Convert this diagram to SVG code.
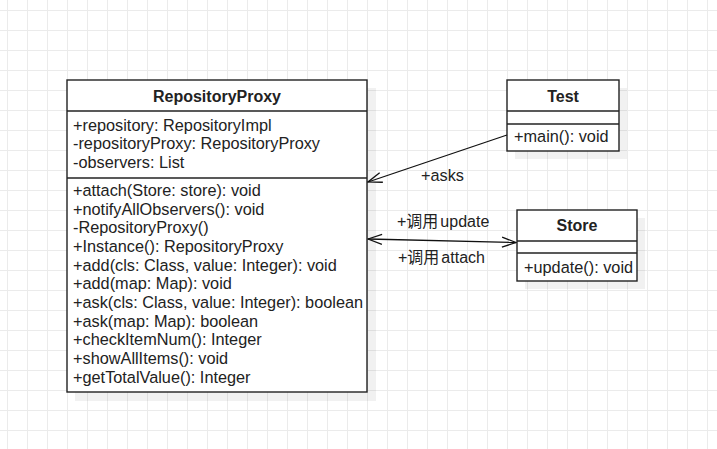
<svg xmlns="http://www.w3.org/2000/svg" width="717" height="449" viewBox="0 0 717 449">
<defs>
<pattern id="grid" x="7" y="10" width="20" height="20" patternUnits="userSpaceOnUse">
<path d="M0.5 0V20M0 0.5H20" stroke="#ebebeb" stroke-width="1" fill="none"/>
</pattern>
<marker id="open" viewBox="0 0 16 12" refX="15" refY="6" markerWidth="16" markerHeight="12" markerUnits="userSpaceOnUse" orient="auto-start-reverse">
<path d="M1 1L15 6L1 11" fill="none" stroke="#111" stroke-width="1.3"/>
</marker>
</defs>
<style>
.box{fill:#fff;stroke:#222;stroke-width:1.4}
.sh{fill:#000;fill-opacity:0.055}
.div{stroke:#222;stroke-width:1.4}
.t{font-family:"Liberation Sans",Arial,sans-serif;font-size:16.3px;fill:#222}
.b{font-weight:bold;text-anchor:middle;font-size:16px}
.cjk{font-family:"Liberation Sans","Noto Sans CJK SC",sans-serif;font-size:16px;fill:#222}
.edge{fill:none;stroke:#111;stroke-width:1.3}
</style>
<rect width="717" height="449" fill="#fff"/>
<rect width="717" height="449" fill="url(#grid)"/>

<g id="RepositoryProxy">
<rect class="sh" x="75" y="88" width="301" height="313"/>
<rect class="box" x="67" y="80" width="300" height="312"/>
<line class="div" x1="67" y1="111" x2="367" y2="111"/>
<line class="div" x1="67" y1="178" x2="367" y2="178"/>
<text class="t b" x="217" y="102">RepositoryProxy</text>
<text class="t" x="73" y="130.5">+repository: RepositoryImpl</text>
<text class="t" x="73" y="149.2">-repositoryProxy: RepositoryProxy</text>
<text class="t" x="73" y="167.8">-observers: List</text>
<text class="t" x="73" y="196">+attach(Store: store): void</text>
<text class="t" x="73" y="214.7">+notifyAllObservers(): void</text>
<text class="t" x="73" y="233.3">-RepositoryProxy()</text>
<text class="t" x="73" y="252">+Instance(): RepositoryProxy</text>
<text class="t" x="73" y="270.7">+add(cls: Class, value: Integer): void</text>
<text class="t" x="73" y="289.3">+add(map: Map): void</text>
<text class="t" x="73" y="308">+ask(cls: Class, value: Integer): boolean</text>
<text class="t" x="73" y="326.7">+ask(map: Map): boolean</text>
<text class="t" x="73" y="345.3">+checkItemNum(): Integer</text>
<text class="t" x="73" y="364">+showAllItems(): void</text>
<text class="t" x="73" y="382.7">+getTotalValue(): Integer</text>
</g>

<g id="Test">
<rect class="sh" x="515" y="88" width="112" height="71"/>
<rect class="box" x="507" y="80" width="112" height="71"/>
<line class="div" x1="507" y1="111" x2="619" y2="111"/>
<line class="div" x1="507" y1="124" x2="619" y2="124"/>
<text class="t b" x="563" y="102">Test</text>
<text class="t" x="514" y="142">+main(): void</text>
</g>

<g id="Store">
<rect class="sh" x="525" y="218" width="120" height="71"/>
<rect class="box" x="517" y="210" width="120" height="71"/>
<line class="div" x1="517" y1="241" x2="637" y2="241"/>
<line class="div" x1="517" y1="253" x2="637" y2="253"/>
<text class="t b" x="577" y="231">Store</text>
<text class="t" x="524" y="273">+update(): void</text>
</g>

<g id="connectors">
<path class="edge" d="M507 135L368 182" marker-end="url(#open)"/>
<path class="edge" d="M368 239L516 242.5" marker-start="url(#open)" marker-end="url(#open)"/>
<text class="t" x="421" y="181">+asks</text>
<text class="cjk" x="397" y="227">+调用<tspan dx="2">update</tspan></text>
<text class="cjk" x="398" y="263">+调用<tspan dx="2">attach</tspan></text>
</g>
</svg>
